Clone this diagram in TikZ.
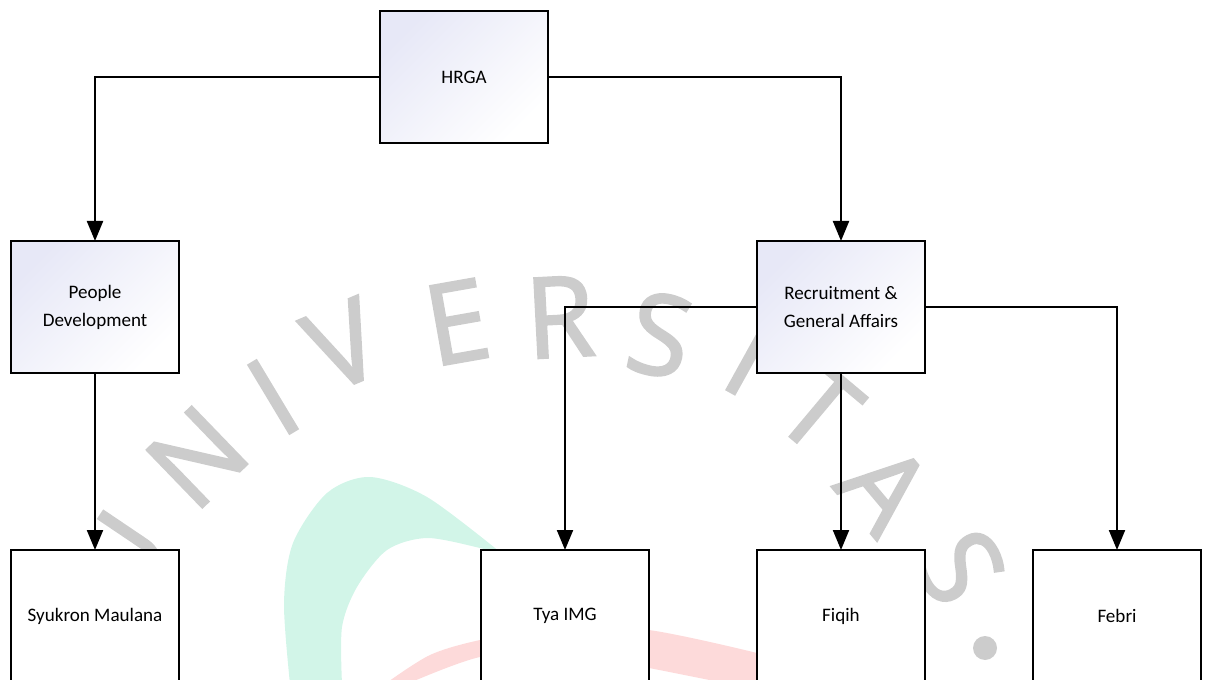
\documentclass[tikz,border=0pt]{standalone}
\usepackage{fontspec}
\setmainfont{Carlito}
\newfontfamily\wmfont[FakeBold=2]{Open Sans}
\usetikzlibrary{arrows.meta}
\definecolor{lav}{RGB}{231,232,247}
\definecolor{wmgray}{RGB}{204,204,204}
\definecolor{wmgreen}{RGB}{210,245,232}
\definecolor{wmred}{RGB}{253,218,218}
\begin{document}
\begin{tikzpicture}[x=0.75pt,y=-0.75pt,
  box/.style={draw=black, line width=1.6pt, minimum width=126pt, minimum height=99pt, inner sep=0pt, outer sep=0pt, align=center, font=\fontsize{14.3}{21}\selectfont},
  topbox/.style={box, top color=lav, bottom color=white, shading angle=45},
  leafbox/.style={box, fill=white},
  conn/.style={line width=1.6pt, -{Triangle[length=15pt,width=12pt]}},
  wm/.style={text=wmgray, font=\wmfont\fontsize{84}{84}\selectfont, inner sep=0pt}
]
\useasboundingbox (0,0) rectangle (1206,680);
% watermark
\fill[wmgreen] plot[smooth] coordinates {(290,684) (284,603) (293,543) (327,493) (370,477) (427,497) (500,552)}
  -- plot[smooth] coordinates {(495,553) (480,548) (427,538) (387,550) (357,587) (342,627) (342,684)} -- cycle;
\fill[wmred] plot[smooth] coordinates {(385,684) (430,655) (480,640) (560,626) (649,630) (757,653) (790,665)}
  -- plot[smooth] coordinates {(790,700) (757,690) (649,668) (560,652) (480,657) (407,684)} -- cycle;
\node[wm, rotate=56] (wU) at (120,559) {U};
\node[wm, rotate=44] (wN) at (197,457) {N};
\node[wm, rotate=31] (wI) at (273,397) {I};
\node[wm, rotate=23] (wV) at (343,345) {V};
\node[wm, rotate=10] (wE) at (457,322) {E};
\node[wm, rotate=3] (wR) at (560,317) {R};
\node[wm, rotate=-12] (wS) at (660,335) {S};
\node[wm, rotate=-29] (wI2) at (750,357) {I};
\node[wm, rotate=-40] (wT) at (819,409) {T};
\node[wm, rotate=-50] (wA) at (885,488) {A};
\node[wm, rotate=-62] (wS2) at (960,567) {S};
\fill[wmgray] (985,648) circle[radius=12];
% chart
\node[topbox] (hrga) at (464,77) {HRGA};
\node[topbox] (pd) at (95,307) {People\\Development};
\node[topbox] (rga) at (841,307) {Recruitment \&\\General Affairs};
\node[leafbox] (sm) at (95,616) {Syukron Maulana};
\node[leafbox] (tya) at (565,616) {Tya IMG};
\node[leafbox] (fiq) at (841,616) {Fiqih};
\node[leafbox] (feb) at (1117,616) {Febri};
\draw[conn] (hrga.west) -| (pd.north);
\draw[conn] (hrga.east) -| (rga.north);
\draw[conn] (pd.south) -- (sm.north);
\draw[conn] (rga.west) -| (tya.north);
\draw[conn] (rga.south) -- (fiq.north);
\draw[conn] (rga.east) -| (feb.north);
\end{tikzpicture}
\end{document}
